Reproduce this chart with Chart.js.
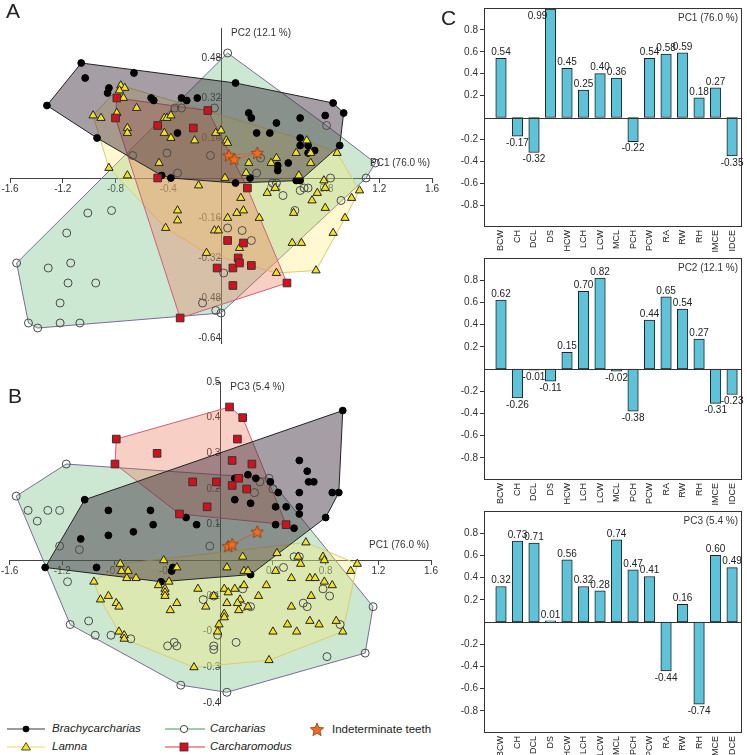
<!DOCTYPE html>
<html><head><meta charset="utf-8">
<script src="https://cdn.jsdelivr.net/npm/chart.js@4/dist/chart.umd.min.js"></script>
<style>
body{margin:0;background:#fff;width:747px;height:755px;position:relative;overflow:hidden;font-family:"Liberation Sans",Arial,sans-serif;color:#222;}
canvas{position:absolute;}
.pl{position:absolute;font-size:21px;line-height:1;color:#222;}
.lg{position:absolute;font-size:11.5px;line-height:1;color:#222;white-space:nowrap;}
.it{font-style:italic;}
</style></head><body>
<canvas id="cA" width="440" height="350" style="left:0;top:0"></canvas>
<canvas id="cB" width="440" height="350" style="left:0;top:360px"></canvas>
<canvas id="c1" width="307" height="258" style="left:440px;top:0"></canvas>
<canvas id="c2" width="307" height="258" style="left:440px;top:250px"></canvas>
<canvas id="c3" width="307" height="252" style="left:440px;top:503px"></canvas>
<div class="pl" style="left:6px;top:0px">A</div>
<div class="pl" style="left:8px;top:385px">B</div>
<div class="pl" style="left:441px;top:7px">C</div>
<svg style="position:absolute;left:0;top:715px" width="340" height="40">
 <line x1="7" y1="14" x2="45" y2="14" stroke="#7a7a7a" stroke-width="1.5"/>
 <circle cx="26" cy="14" r="3.3" fill="#000"/>
 <line x1="7" y1="32" x2="45" y2="32" stroke="#efe49a" stroke-width="1.5"/>
 <polygon points="26,27.5 30.5,35 21.5,35" fill="#f2e21e" stroke="#222" stroke-width="0.8"/>
 <line x1="165" y1="14" x2="205" y2="14" stroke="#3f9a5a" stroke-width="1.2"/>
 <circle cx="184" cy="14" r="3.6" fill="#fff" stroke="#444" stroke-width="1"/>
 <line x1="165" y1="32" x2="205" y2="32" stroke="#d33a4a" stroke-width="1.2"/>
 <rect x="180" y="28" width="8" height="8" fill="#d4101e" stroke="#333" stroke-width="0.8"/>
 <polygon id="lgStar" fill="#f26b21" stroke="#8a3a10" stroke-width="0.8"/>
</svg>
<div class="lg it" style="left:52px;top:723px">Brachycarcharias</div>
<div class="lg it" style="left:52px;top:741px">Lamna</div>
<div class="lg it" style="left:210px;top:723px">Carcharias</div>
<div class="lg it" style="left:210px;top:741px">Carcharomodus</div>
<div class="lg" style="left:332px;top:724px">Indeterminate teeth</div>
<script>
// ---------------- DATA ----------------
// Panel A: PC1 vs PC2
const brachyA = [[-1.06,0.46],[-1.03,0.40],[-0.66,0.42],[-0.85,0.36],[-0.86,0.34],[-1.32,0.29],[-0.53,0.32],[-0.51,0.31],[-0.30,0.32],[-0.26,0.31],[-0.18,0.32],[-0.94,0.16],[-0.33,0.18],[0.11,0.38],[0.85,0.30],[0.93,0.26],[0.21,0.26],[0.23,0.24],[0.42,0.22],[0.60,0.24],[0.79,0.25],[0.27,0.18],[0.37,0.18],[0.60,0.16],[0.60,0.13],[0.66,0.13],[0.90,0.13],[0.71,0.11],[0.66,0.10],[0.51,0.06],[0.43,0.05],[0.43,0.03],[0.22,0.00],[0.11,-0.02],[0.57,-0.01],[0.60,-0.01],[-0.45,0.01],[-0.38,0.00]];
const lamnaA = [[-0.76,0.37],[-0.73,0.36],[-0.77,0.35],[-0.74,0.32],[-0.97,0.25],[-0.91,0.24],[-0.79,0.26],[-0.64,0.28],[-0.71,0.20],[-0.71,0.18],[-0.43,0.24],[-0.41,0.24],[-0.38,0.25],[-0.43,0.18],[-0.38,0.16],[-0.20,0.15],[-0.04,0.18],[0.00,0.19],[0.04,0.15],[0.05,0.14],[-0.47,0.06],[-0.85,0.04],[-0.71,0.01],[0.21,0.06],[0.38,0.06],[0.42,0.08],[0.57,0.10],[0.65,0.15],[0.68,0.10],[0.68,0.06],[0.88,0.10],[-0.17,-0.03],[-0.33,-0.13],[-0.33,-0.17],[-0.42,-0.20],[0.05,-0.16],[-0.05,-0.21],[-0.02,-0.21],[-0.11,-0.30],[0.03,0.00],[0.19,0.02],[0.59,0.01],[0.15,-0.08],[0.12,-0.14],[0.17,-0.13],[0.29,-0.16],[0.35,-0.06],[0.41,-0.04],[0.78,-0.01],[0.73,-0.06],[0.79,-0.04],[0.69,-0.09],[0.79,-0.12],[0.55,-0.14],[1.05,-0.05],[0.99,-0.08],[0.94,-0.16],[0.85,-0.22],[0.61,-0.26],[0.54,-0.26],[0.14,-0.28],[0.72,-0.37],[0.42,-0.38]];
const carchA = [[0.05,0.50],[-0.35,0.28],[-0.30,0.28],[-0.05,0.28],[-0.67,0.09],[-0.41,0.10],[-0.08,0.09],[0.80,0.21],[1.17,0.06],[0.30,0.08],[-0.33,0.02],[-1.01,-0.14],[-0.83,-0.13],[-1.17,-0.22],[-1.55,-0.34],[-1.31,-0.36],[-1.14,-0.34],[-1.16,-0.42],[-0.95,-0.42],[-1.22,-0.50],[-1.46,-0.58],[-1.39,-0.60],[-1.22,-0.58],[-1.07,-0.58],[-0.14,-0.50],[-0.04,-0.53],[0.00,-0.54],[0.05,-0.20],[0.02,-0.38],[1.10,0.00],[0.27,0.02],[0.39,-0.02],[0.42,-0.02],[0.47,-0.07],[0.60,-0.05],[0.63,-0.04],[0.66,-0.04],[0.83,0.00],[0.56,-0.13],[0.91,-0.09],[0.16,-0.21],[0.23,-0.25]];
const carchoA = [[-0.79,0.32],[-0.80,0.24],[-0.48,0.21],[-0.21,0.20],[-0.10,0.27],[-0.48,0.00],[0.20,-0.04],[0.05,-0.25],[0.17,-0.26],[0.13,-0.32],[0.09,-0.36],[0.14,-0.34],[0.23,-0.35],[-0.03,-0.36],[0.09,-0.43],[0.50,-0.42],[-0.31,-0.56]];
const teethA = [[0.06,0.09],[0.10,0.075],[0.275,0.10]];
// Panel B: PC1 vs PC3
const brachyB = [[0.93,0.42],[0.60,0.28],[0.66,0.25],[0.67,0.22],[0.71,0.22],[0.60,0.19],[0.85,0.19],[0.90,0.19],[0.44,0.19],[0.38,0.22],[0.27,0.23],[0.21,0.24],[0.11,0.23],[0.11,0.17],[-1.03,0.17],[-0.85,0.14],[-0.53,0.14],[-0.51,0.10],[-0.66,0.08],[-0.85,0.07],[-1.06,0.06],[-0.18,0.10],[-0.26,0.12],[-1.33,-0.02],[-0.94,-0.02],[-0.37,-0.03],[-0.36,-0.02],[-0.45,-0.06],[0.23,0.16],[0.42,0.15],[0.50,0.15],[0.60,0.15],[0.60,0.13],[0.80,0.12],[0.42,0.10],[0.56,0.09],[0.23,-0.04]];
const lamnaB = [[-0.43,0.00],[-0.33,-0.02],[-0.76,-0.01],[-0.70,-0.03],[-0.75,-0.03],[-0.71,-0.05],[-0.64,-0.05],[-0.96,-0.06],[-0.47,-0.07],[-0.42,-0.08],[-0.39,-0.06],[-0.91,-0.11],[-0.85,-0.10],[-0.79,-0.12],[-0.77,-0.13],[-0.42,-0.09],[-0.42,-0.10],[-0.33,-0.12],[-0.38,-0.14],[-0.17,-0.08],[-0.11,-0.13],[-0.05,-0.10],[0.03,-0.08],[0.05,-0.02],[0.06,-0.09],[0.03,-0.15],[0.03,-0.16],[-0.01,-0.18],[-0.02,-0.20],[-0.77,-0.20],[-0.73,-0.21],[0.43,0.02],[0.65,0.05],[0.17,0.01],[0.18,-0.03],[0.21,-0.03],[0.42,-0.03],[0.54,-0.05],[0.59,0.01],[0.61,-0.01],[0.78,0.01],[0.79,0.00],[1.04,-0.01],[0.99,-0.03],[0.68,-0.05],[0.72,-0.05],[0.79,-0.06],[0.85,-0.07],[0.35,-0.07],[0.18,-0.07],[0.11,-0.08],[0.05,-0.12],[0.29,-0.10],[0.15,-0.11],[0.13,-0.12],[0.21,-0.13],[0.14,-0.14],[0.69,-0.10],[0.54,-0.13],[0.51,-0.18],[0.68,-0.17],[0.75,-0.18],[0.88,-0.17],[0.93,-0.20],[0.40,-0.20],[0.58,-0.20],[-0.20,-0.30],[0.37,-0.28],[-0.73,-0.22]];
const carchB = [[-1.17,0.27],[-1.55,0.18],[0.37,0.23],[0.40,0.20],[0.30,0.22],[0.26,0.19],[-1.46,0.14],[-1.31,0.14],[-1.22,0.14],[-1.39,0.11],[-1.22,0.04],[-1.07,0.03],[-0.08,0.04],[-1.16,-0.06],[-1.14,-0.18],[-1.00,-0.17],[-0.95,-0.21],[-0.83,-0.21],[-0.68,-0.22],[-0.40,-0.24],[-0.35,-0.23],[-0.13,-0.11],[-0.05,-0.10],[-0.05,-0.24],[0.56,0.01],[0.60,0.01],[0.48,-0.02],[0.17,-0.08],[0.23,-0.13],[0.17,-0.13],[0.63,-0.12],[0.66,-0.13],[0.78,-0.08],[0.83,-0.10],[0.91,-0.18],[1.16,-0.13],[0.12,-0.23],[-0.02,-0.21],[-0.33,-0.24],[-0.05,-0.25],[-0.30,-0.35],[0.05,-0.37],[0.81,-0.27],[1.10,-0.26]];
const carchoB = [[-0.79,0.34],[-0.48,0.30],[-0.80,0.27],[-0.21,0.22],[-0.03,0.22],[0.07,0.43],[0.17,0.40],[0.13,0.34],[0.09,0.28],[0.24,0.27],[0.14,0.23],[0.09,0.21],[0.20,0.20],[-0.10,0.15],[-0.31,0.13],[0.50,0.10]];
const teethB = [[0.06,0.04],[0.09,0.045],[0.28,0.08]];
// Axis ticks
const xTicks = [-1.6,-1.2,-0.8,-0.4,0.4,0.8,1.2,1.6];
const xTickLabels = ['-1.6','-1.2','-0.8','-0.4','0.4','0.8','1.2','1.6'];
const yTicksA = [-0.64,-0.48,-0.32,-0.16,0.16,0.32,0.48];
const yTickLabelsA = ['-0.64','-0.48','-0.32','-0.16','0.16','0.32','0.48'];
const yTicksB = [-0.4,-0.3,-0.2,-0.1,0.1,0.2,0.3,0.4,0.5];
const yTickLabelsB = ['-0.4','-0.3','-0.2','-0.1','0.1','0.2','0.3','0.4','0.5'];
// Panel C: loadings
const cats = ['BCW','CH','DCL','DS','HCW','LCH','LCW','MCL','PCH','PCW','RA','RW','RH','IMCE','IDCE'];
const pc1 = [0.54,-0.17,-0.32,0.99,0.45,0.25,0.40,0.36,-0.22,0.54,0.58,0.59,0.18,0.27,-0.35];
const pc2 = [0.62,-0.26,-0.01,-0.11,0.15,0.70,0.82,-0.02,-0.38,0.44,0.65,0.54,0.27,-0.31,-0.23];
const pc3 = [0.32,0.73,0.71,0.01,0.56,0.32,0.28,0.74,0.47,0.41,-0.44,0.16,-0.74,0.60,0.49];
const barTicks = [-0.8,-0.6,-0.4,-0.2,0.2,0.4,0.6,0.8];
const barTickLabels = ['-0.8','-0.6','-0.4','-0.2','0.2','0.4','0.6','0.8'];

// ---------------- HELPERS ----------------
Chart.defaults.font.family = '"Liberation Sans", Arial, sans-serif';
const toXY = a => a.map(p => ({x:p[0], y:p[1]}));
function hull(pts){
  const p = toXY(pts).sort((a,b)=>a.x-b.x||a.y-b.y);
  const cr=(o,a,b)=>(a.x-o.x)*(b.y-o.y)-(a.y-o.y)*(b.x-o.x);
  const lo=[],up=[];
  for(const q of p){while(lo.length>=2&&cr(lo[lo.length-2],lo[lo.length-1],q)<=0)lo.pop();lo.push(q);}
  for(const q of p.slice().reverse()){while(up.length>=2&&cr(up[up.length-2],up[up.length-1],q)<=0)up.pop();up.push(q);}
  lo.pop();up.pop();
  const h=lo.concat(up); h.push(h[0]); return h;
}
function starPath(cx,cy,r){const a=[];for(let i=0;i<10;i++){const ang=-Math.PI/2+i*Math.PI/5;const rr=i%2?r*0.45:r;a.push([cx+rr*Math.cos(ang),cy+rr*Math.sin(ang)]);}return a;}
function makeStar(r){
  const c=document.createElement('canvas');const s=Math.ceil(r*2+3);c.width=s;c.height=s;
  const g=c.getContext('2d');g.beginPath();starPath(s/2,s/2+0.5,r).forEach(p=>g.lineTo(p[0],p[1]));g.closePath();
  g.fillStyle='#f26b21';g.fill();g.strokeStyle='#8a3a10';g.lineWidth=0.8;g.stroke();return c;
}
document.getElementById('lgStar').setAttribute('points', starPath(317,15,7).map(p=>p.join(',')).join(' '));
const starImg = makeStar(6.5);

function hullDS(pts, fillC, lineC, order){
  return {data:hull(pts), showLine:true, fill:'shape', backgroundColor:fillC, borderColor:lineC, borderWidth:1, pointRadius:0, tension:0, order:order};
}
function scatterDatasets(br, la, ca, co, te){
  return [
    hullDS(ca,'rgba(110,190,130,0.35)','#7a6a98',14),
    hullDS(la,'rgba(255,232,110,0.32)','#d8cc70',13),
    hullDS(co,'rgba(235,110,80,0.33)','#d06078',12),
    hullDS(br,'rgba(55,40,55,0.45)','#222',11),
    hullDS(te,'rgba(230,140,70,0.3)','#b07050',10),
    {data:toXY(ca), pointStyle:'circle', pointRadius:4, backgroundColor:'rgba(0,0,0,0)', borderColor:'#4a4a4a', borderWidth:1, order:5},
    {data:toXY(br), pointStyle:'circle', pointRadius:3.4, backgroundColor:'#000', borderColor:'#000', borderWidth:1, order:4},
    {data:toXY(la), pointStyle:'triangle', pointRadius:4.8, backgroundColor:'#f2e21e', borderColor:'#222', borderWidth:1, order:3},
    {data:toXY(co), pointStyle:'rect', pointRadius:5.4, backgroundColor:'#d4101e', borderColor:'#333', borderWidth:1, order:2},
    {data:toXY(te), pointStyle:starImg, order:1}
  ];
}
function titlePlugin(xTitle, yTitle){
  return {id:'titles', afterDraw(chart){
    const {ctx, chartArea:a, scales:{x,y}} = chart;
    ctx.save(); ctx.font='10px "Liberation Sans", Arial, sans-serif'; ctx.fillStyle='#333';
    ctx.textAlign='right'; ctx.textBaseline='middle';
    ctx.fillText(xTitle, a.right-2, y.getPixelForValue(0)-15);
    ctx.textAlign='left';
    ctx.fillText(yTitle, x.getPixelForValue(0)+10, a.top+5);
    ctx.restore();
  }};
}
function scatterChart(id, ds, pad, ymin, ymax, yT, yL, xTitle, yTitle){
  return new Chart(document.getElementById(id), {
    type:'scatter',
    data:{datasets:ds},
    options:{
      responsive:false, animation:false, events:[],
      layout:{padding:pad},
      plugins:{legend:{display:false}, tooltip:{enabled:false}},
      scales:{
        x:{type:'linear', min:-1.6, max:1.6, bounds:'data', position:{y:0},
           grid:{drawOnChartArea:false, drawTicks:true, tickLength:4, color:'#444'},
           border:{display:true, color:'#444', width:1},
           ticks:{autoSkip:false, maxRotation:0, padding:1, color:'#333', font:{size:10}, callback:(v,i)=>xTickLabels[i]},
           afterBuildTicks:s=>{s.ticks = xTicks.map(v=>({value:v}));}},
        y:{type:'linear', min:ymin, max:ymax, bounds:'data', position:{x:0},
           grid:{drawOnChartArea:false, drawTicks:true, tickLength:4, color:'#444'},
           border:{display:true, color:'#444', width:1},
           ticks:{autoSkip:false, padding:1, color:'#333', font:{size:10}, callback:(v,i)=>yL[i]},
           afterBuildTicks:s=>{s.ticks = yT.map(v=>({value:v}));}}
      }
    },
    plugins:[titlePlugin(xTitle, yTitle)]
  });
}
scatterChart('cA', scatterDatasets(brachyA, lamnaA, carchA, carchoA, teethA), {left:10,top:28,right:6,bottom:7}, -0.66, 0.6, yTicksA, yTickLabelsA, 'PC1 (76.0 %)', 'PC2 (12.1 %)');
scatterChart('cB', scatterDatasets(brachyB, lamnaB, carchB, carchoB, teethB), {left:7,top:22,right:9,bottom:6}, -0.4, 0.5, yTicksB, yTickLabelsB, 'PC1 (76.0 %)', 'PC3 (5.4 %)');

function boxPlugin(vals, title){
  return {id:'box', afterDatasetsDraw(chart){
    const {ctx, chartArea:a, scales:{y}} = chart;
    ctx.save(); ctx.strokeStyle='#333'; ctx.lineWidth=1;
    ctx.strokeRect(Math.round(a.left)+0.5, Math.round(a.top)+0.5, Math.round(a.width)-1, Math.round(a.height)-1);
    const z = Math.round(y.getPixelForValue(0))+0.5;
    ctx.beginPath(); ctx.moveTo(a.left, z); ctx.lineTo(a.right, z); ctx.stroke();
    ctx.font='10px "Liberation Sans", Arial, sans-serif'; ctx.fillStyle='#222'; ctx.textAlign='center';
    chart.getDatasetMeta(0).data.forEach((bar,i)=>{
      const v = vals[i], t = v.toFixed(2);
      if (v >= 0) {
        ctx.textBaseline='bottom'; let x = bar.x, yy = bar.y - 1;
        if (yy - 11 < a.top) { x = bar.x - 13; yy = a.top + 13; }
        ctx.fillText(t, x, yy);
      } else { ctx.textBaseline='top'; ctx.fillText(t, bar.x, bar.y + 2); }
    });
    ctx.textAlign='right'; ctx.textBaseline='top'; ctx.fillStyle='#333';
    ctx.fillText(title, a.right-4, a.top+5);
    ctx.restore();
  }};
}
function barChart(id, vals, title, padTop, xH){
  return new Chart(document.getElementById(id), {
    type:'bar',
    data:{datasets:[{data: vals.map((v,i)=>({x:i, y:v})), backgroundColor:'#5ec3d9', borderColor:'#222', borderWidth:1, barThickness:10.5, borderSkipped:false}]},
    options:{
      responsive:false, animation:false, events:[],
      layout:{padding:{top:padTop, right:5, left:0, bottom:0}},
      plugins:{legend:{display:false}, tooltip:{enabled:false}},
      scales:{
        x:{type:'linear', min:-1.03, max:14.6, bounds:'data', offset:false, grid:{display:false, drawTicks:false, tickLength:0}, border:{display:false},
           ticks:{autoSkip:false, minRotation:90, maxRotation:90, padding:3, color:'#222', font:{size:9}, callback:(v)=>cats[v]},
           afterBuildTicks:s=>{s.ticks = cats.map((c,i)=>({value:i}));},
           afterFit:s=>{s.height = xH;}},
        y:{type:'linear', min:-1, max:1, bounds:'data', grid:{drawOnChartArea:false, drawTicks:true, tickLength:4, color:'#333'}, border:{display:false},
           ticks:{autoSkip:false, padding:2, color:'#333', font:{size:10}, callback:(v,i)=>barTickLabels[i]},
           afterBuildTicks:s=>{s.ticks = barTicks.map(v=>({value:v}));},
           afterFit:s=>{s.width = 44;}}
      }
    },
    plugins:[boxPlugin(vals, title)]
  });
}
barChart('c1', pc1, 'PC1 (76.0 %)', 2, 31);
barChart('c2', pc2, 'PC2 (12.1 %)', 4, 28);
barChart('c3', pc3, 'PC3 (5.4 %)', 5, 22);
</script>
</body></html>
